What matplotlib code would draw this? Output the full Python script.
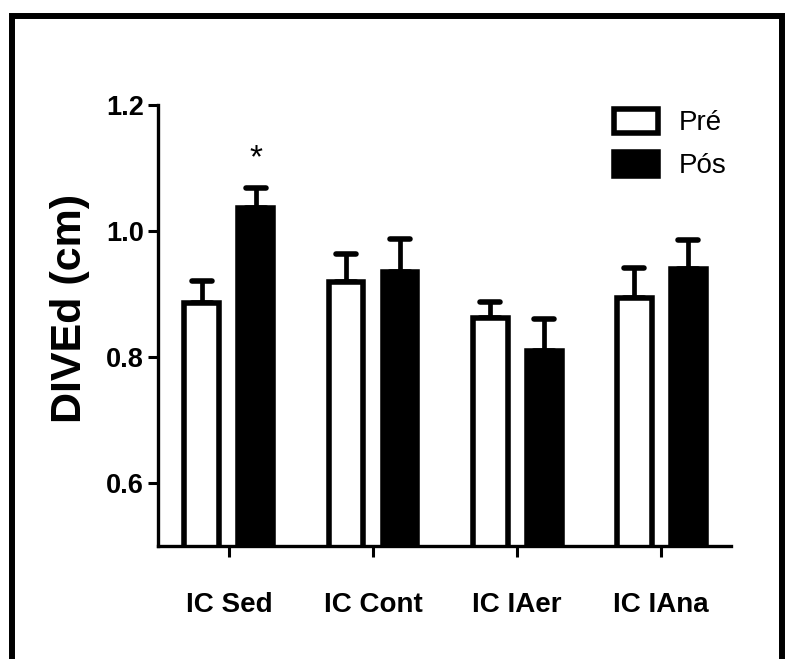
import matplotlib
matplotlib.use("Agg")
import matplotlib.pyplot as plt
from matplotlib.patches import Rectangle
from matplotlib.markers import MarkerStyle
import numpy as np

categories = ["IC Sed", "IC Cont", "IC IAer", "IC IAna"]
series_names = ["Pré", "Pós"]
pre_vals = [0.886, 0.919, 0.862, 0.894]
pre_err = [0.035, 0.045, 0.026, 0.047]
pos_vals = [1.036, 0.935, 0.809, 0.940]
pos_err = [0.032, 0.052, 0.052, 0.046]
yticks = [0.6, 0.8, 1.0, 1.2]
ytick_labels = ["0.6", "0.8", "1.0", "1.2"]
signif = ["*", "", "", ""]

plt.rcParams['font.family'] = ['Liberation Sans', 'DejaVu Sans']

fig = plt.figure(figsize=(7.87, 6.59), dpi=100)
ax = fig.add_axes([158/787, 1-546/659, (731-158)/787, (546-105)/659])

x = np.arange(len(categories))
off = 0.1875
w = 0.243
lw = 4.0

b1 = ax.bar(x - off, pre_vals, w, color="white", edgecolor="black", linewidth=lw, zorder=2, label=series_names[0])
b2 = ax.bar(x + off, pos_vals, w, color="black", edgecolor="black", linewidth=lw, zorder=2, label=series_names[1])

for xs, vals, errs in [(x - off, pre_vals, pre_err), (x + off, pos_vals, pos_err)]:
    eb = ax.errorbar(xs, vals, yerr=[np.zeros(len(errs)), errs], fmt="none",
                     ecolor="black", elinewidth=3.4, capsize=7.5, capthick=4.0, zorder=1)
    for cl in eb[1]:
        cl.set_marker(MarkerStyle("_", capstyle="round"))
        cl.set_markersize(15)
        cl.set_markeredgewidth(4.0)

for xi, v, e, s in zip(x + off, pos_vals, pos_err, signif):
    if s:
        ax.text(xi, v + e + 0.047, s, ha="center", va="center", fontsize=24)

ax.set_xlim(-0.493, 3.486)
ax.set_ylim(0.5, 1.2)
ax.set_yticks(yticks)
ax.set_yticklabels(ytick_labels, fontsize=19.5, fontweight="bold")
ax.set_xticks(x)
ax.set_xticklabels(categories, fontsize=20, fontweight="bold")
ax.tick_params(axis="y", length=7, width=2.2, pad=3)
ax.tick_params(axis="x", length=8, width=2.2, pad=25)
for sp in ["top", "right"]:
    ax.spines[sp].set_visible(False)
for sp in ["left", "bottom"]:
    ax.spines[sp].set_linewidth(2.4)
    ax.spines[sp].set_zorder(3)

fig.text(70/787, 1-308/659, "DIVEd (cm)", rotation=90, ha="center", va="center",
         fontsize=31, fontweight="bold")

leg = fig.legend(handles=[b1, b2], labels=series_names, loc="upper left",
                 bbox_to_anchor=(600/787, 1-95/659), frameon=False, fontsize=20,
                 handlelength=1.6, handleheight=0.95, handletextpad=0.75, labelspacing=0.55,
                 borderpad=0)

fig.patches.append(Rectangle((12/787, -0.2), (782-12)/787, 1.2 - 16/659, transform=fig.transFigure,
                             fill=False, edgecolor="black", linewidth=4.3))

fig.savefig("out.png", dpi=100)
